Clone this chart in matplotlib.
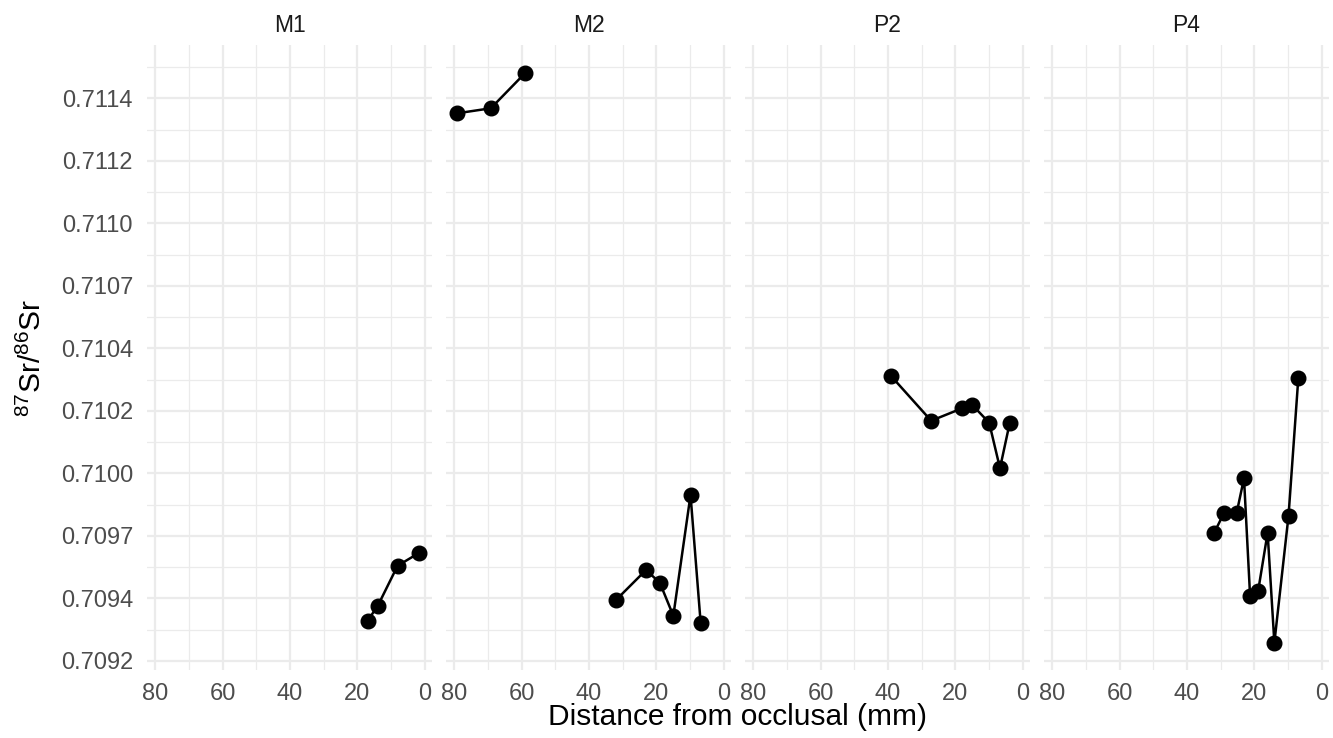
import matplotlib.pyplot as plt
from matplotlib.ticker import FixedLocator, MultipleLocator

plt.rcParams['font.family'] = ['Liberation Sans', 'DejaVu Sans']
plt.rcParams['mathtext.fontset'] = 'custom'
plt.rcParams['mathtext.rm'] = 'Liberation Sans'
plt.rcParams['mathtext.default'] = 'regular'

# Sr isotope profiles along each tooth
teeth = ['M1', 'M2', 'P2', 'P4']

m1_dist = [17.0, 14.0, 8.1, 1.9]
m1_sr = [0.709360, 0.709419, 0.709580, 0.709630]

# M2 was sampled in two separate runs
m2_top_dist = [79.0, 69.1, 59.0]
m2_top_sr = [0.711390, 0.711410, 0.711550]
m2_low_dist = [32.0, 23.1, 19.0, 15.0, 9.9, 6.9]
m2_low_sr = [0.709443, 0.709563, 0.709512, 0.709380, 0.709863, 0.709352]

p2_dist = [39.1, 27.2, 18.0, 15.0, 10.0, 6.8, 3.9]
p2_sr = [0.710339, 0.710160, 0.710210, 0.710223, 0.710152, 0.709970, 0.710152]

p4_dist = [32.0, 29.0, 25.3, 23.1, 21.3, 18.9, 16.1, 14.1, 9.9, 7.0]
p4_sr = [0.709710, 0.709792, 0.709790, 0.709930, 0.709460, 0.709480,
         0.709712, 0.709272, 0.709780, 0.710330]

series = {
    'M1': [(m1_dist, m1_sr)],
    'M2': [(m2_top_dist, m2_top_sr), (m2_low_dist, m2_low_sr)],
    'P2': [(p2_dist, p2_sr)],
    'P4': [(p4_dist, p4_sr)],
}

ytick_vals = [0.70920, 0.70945, 0.70970, 0.70995, 0.71020,
              0.71045, 0.71070, 0.71095, 0.71120, 0.71145]
ytick_labels = ['0.7092', '0.7094', '0.7097', '0.7100', '0.7102',
                '0.7104', '0.7107', '0.7110', '0.7112', '0.7114']
xtick_vals = [80, 60, 40, 20, 0]

W, H = 1333, 738
fig = plt.figure(figsize=(W / 100, H / 100), dpi=100)

grid_col = '#ebebeb'
left0, top_px, bot_px = 147, 45, 670
panel_w, gap = 285, 14

axes = []
for i, tooth in enumerate(teeth):
    x0 = left0 + i * (panel_w + gap)
    ax = fig.add_axes([x0 / W, 1 - bot_px / H, panel_w / W, (bot_px - top_px) / H])
    axes.append(ax)

    for xs, ys in series[tooth]:
        ax.plot(xs, ys, color='black', lw=1.8, zorder=3)
        ax.plot(xs, ys, 'o', color='black', ms=10.5, zorder=4)

    ax.set_xlim(82.4, -2.1)
    ax.set_ylim(0.709163, 0.711663)
    ax.xaxis.set_major_locator(FixedLocator(xtick_vals))
    ax.xaxis.set_minor_locator(MultipleLocator(10))
    ax.yaxis.set_major_locator(FixedLocator(ytick_vals))
    ax.yaxis.set_minor_locator(FixedLocator(
        [v + 0.000125 for v in ytick_vals[:-1]] + [ytick_vals[0] - 0.000125, ytick_vals[-1] + 0.000125]))
    ax.set_xticklabels([str(v) for v in xtick_vals])
    if i == 0:
        ax.set_yticklabels(ytick_labels)
    else:
        ax.set_yticklabels([])

    ax.grid(True, which='major', color=grid_col, lw=1.6)
    ax.grid(True, which='minor', color=grid_col, lw=0.9)
    ax.set_axisbelow(True)
    for s in ax.spines.values():
        s.set_visible(False)
    ax.tick_params(which='both', length=0)
    ax.tick_params(axis='x', labelsize=17, labelcolor='#4d4d4d', pad=9)
    ax.tick_params(axis='y', labelsize=17, labelcolor='#4d4d4d', pad=10)
    ax.set_title(tooth, fontsize=16.5, color='#1a1a1a', pad=9.5)

fig.text((left0 + (4 * panel_w + 3 * gap) / 2) / W, 1 - 717 / H,
         'Distance from occlusal (mm)', ha='center', va='center', fontsize=21.5)
fig.text(32 / W, 1 - (top_px + bot_px) / 2 / H, r'$^{87}$Sr/$^{86}$Sr',
         ha='center', va='center', rotation=90, fontsize=21.5)

fig.savefig('out.png', dpi=100, facecolor='white')
